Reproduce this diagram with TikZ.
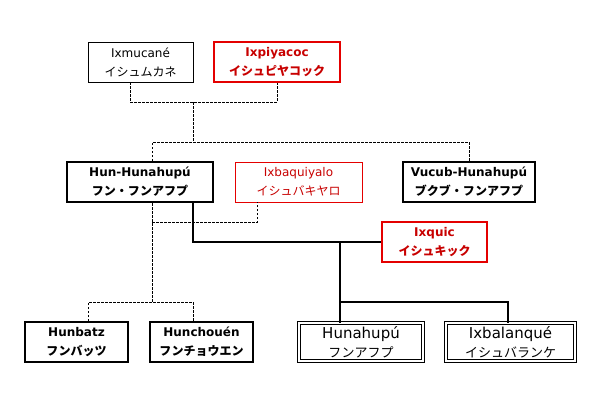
\documentclass[tikz,border=0pt]{standalone}
\usepackage{fontspec}
\setmainfont{DejaVu Sans}
\newfontfamily\jp{Noto Sans CJK JP}
\definecolor{kinred}{RGB}{228,0,0}
\definecolor{kintext}{RGB}{200,0,0}

\tikzset{
	person/.style={rectangle, draw, minimum height=40pt, inner sep=0pt, align=center,
		font=\fontsize{12}{19}\selectfont},
	plain box/.style={person, line width=0.8pt},
	bold box/.style={person, line width=2pt},
	red box/.style={person, draw=kinred, line width=2.4pt, text=kintext},
	faint red box/.style={person, draw=kinred, line width=0.8pt, text=kintext},
	twin box/.style={person, double, double distance=2pt, line width=0.8pt, minimum height=38pt},
	kin link/.style={line width=2pt},
	dash link/.style={line width=0.8pt, dash pattern=on 2.5pt off 1.5pt}
}

\begin{document}
\begin{tikzpicture}[x=1pt, y=-1pt]
	\useasboundingbox[fill=white] (0,0) rectangle (600,400);
	% Nodes:
	\node[plain box, minimum width=105pt](ixmucane) at (140.5,62){Ixmucané\\{\jp イシュムカネ}};
	\node[red box, minimum width=126pt](ixpiyacoc) at (277,62){\textbf{Ixpiyacoc}\\{\jp\bfseries イシュピヤコック}};
	\node[bold box, minimum width=146pt](hunhun) at (140,182){\textbf{Hun-Hunahupú}\\{\jp\bfseries フン・フンアフプ}};
	\node[faint red box, minimum width=127pt](ixbaq) at (298.5,182){Ixbaquiyalo\\{\jp イシュバキヤロ}};
	\node[bold box, minimum width=132pt](vucub) at (469,182){\textbf{Vucub-Hunahupú}\\{\jp\bfseries ブクブ・フンアフプ}};
	\node[red box, minimum width=105pt](ixquic) at (434.5,242){\textbf{Ixquic}\\{\jp\bfseries イシュキック}};
	\node[bold box, minimum width=103pt](hunbatz) at (76.5,342){\textbf{Hunbatz}\\{\jp\bfseries フンバッツ}};
	\node[bold box, minimum width=103pt](hunchouen) at (201.5,342){\textbf{Hunchouén}\\{\jp\bfseries フンチョウエン}};
	\node[twin box, minimum width=124pt, font=\fontsize{15}{19}\selectfont](hunahpu) at (361,342){Hunahupú\\{\jp\fontsize{13}{13}\selectfont フンアフプ}};
	\node[twin box, minimum width=129pt, font=\fontsize{15}{19}\selectfont](xbalanque) at (510.5,342){Ixbalanqué\\{\jp\fontsize{13}{13}\selectfont イシュバランケ}};
	% Junctions:
	\coordinate (parents) at (193,102);
	\coordinate (sons) at (193,142);
	\coordinate (elders) at (152,302);
	\coordinate (wed) at (152,222);
	\coordinate (union) at (340,242);
	\coordinate (heroes) at (340,302);
	% Wires:
	\draw[dash link] ([xshift=-10.5pt]ixmucane.south) |- (parents) -| (ixpiyacoc.south);
	\draw[dash link] (parents) -- (sons);
	\draw[dash link] ([xshift=12pt]hunhun.north) |- (sons) -| (vucub.north);
	\draw[dash link] ([xshift=12pt]hunhun.south) -- (elders);
	\draw[dash link] (wed) -| ([xshift=-41.5pt]ixbaq.south);
	\draw[dash link] ([xshift=11.5pt]hunbatz.north) |- (elders) -| ([xshift=-8.5pt]hunchouen.north);
	\draw[kin link] ([xshift=53pt]hunhun.south) |- (ixquic.west);
	\draw[kin link] (union) -- (heroes);
	\draw[kin link] ([xshift=-21pt]hunahpu.north) |- (heroes) -| ([xshift=-2.5pt]xbalanque.north);
\end{tikzpicture}
\end{document}
